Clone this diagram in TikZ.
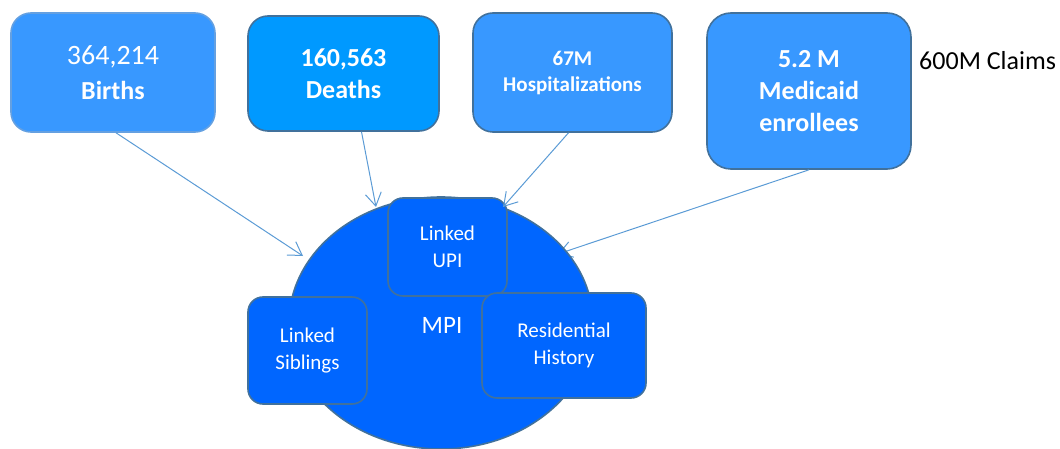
\documentclass[tikz,border=0pt]{standalone}
\usepackage{fontspec}
\setmainfont{Carlito}
\usetikzlibrary{shapes.geometric,arrows.meta,calc}
\definecolor{srcfill}{RGB}{56,152,255}
\definecolor{deathfill}{RGB}{0,153,255}
\definecolor{innerfill}{RGB}{0,102,255}
\definecolor{darkedge}{RGB}{65,113,156}
\definecolor{lightedge}{RGB}{100,160,225}
\definecolor{arrowcol}{RGB}{91,155,213}
\tikzset{
  srcbox/.style={rectangle, rounded corners=20pt, fill=srcfill, draw=darkedge, line width=1.6pt,
    text=white, align=center, inner sep=0pt},
  innerbox/.style={rectangle, rounded corners=15pt, fill=innerfill, draw=darkedge, line width=1.6pt,
    text=white, align=center, inner sep=0pt, font={\fontsize{21}{27}\selectfont}},
  feed/.style={draw=arrowcol, line width=1pt, -{Straight Barb[length=13pt,width=16pt,line width=1pt]}}
}
\begin{document}
\begin{tikzpicture}[x=1pt,y=-1pt]
\useasboundingbox (0,0) rectangle (1060,449);
% source boxes
\node[srcbox, draw=lightedge, minimum width=204pt, minimum height=119pt,
  font={\bfseries\fontsize{26}{35}\selectfont}] (births) at (113,72.5)
  {{\mdseries\fontsize{28}{35}\selectfont 364,214}\\Births};
\node[srcbox, fill=deathfill, minimum width=191pt, minimum height=115pt,
  font={\bfseries\fontsize{26}{32}\selectfont}] (deaths) at (343.5,73.5)
  {160,563\\Deaths};
\node[srcbox, minimum width=199pt, minimum height=119pt,
  font={\bfseries\fontsize{21}{26}\selectfont}] (hosp) at (572.5,72.5)
  {67M\\Hospitalizations};
\node[srcbox, rounded corners=24pt, minimum width=204pt, minimum height=156pt,
  font={\bfseries\fontsize{26}{32}\selectfont}] (medicaid) at (809,91)
  {5.2 M\\Medicaid\\enrollees};
\node[anchor=base west, inner sep=0pt, font={\fontsize{26}{32}\selectfont}] (claims) at (919,70) {600M Claims};
% connector end points
\coordinate (bs) at ($(births.south)+(3pt,0)$);
\coordinate (bt) at (303,256);
\coordinate (ds) at ($(deaths.south)+(18pt,0)$);
\coordinate (dt) at (376,207);
\coordinate (hs) at ($(hosp.south)+(-4pt,0)$);
\coordinate (ht) at (503,207);
\coordinate (ms) at (medicaid.south);
\coordinate (mt) at (558,254);
\draw[feed] (ms) -- (mt);
\draw[feed] (bs) -- (bt);
\draw[feed] (ds) -- (dt);
% MPI
\node[ellipse, fill=innerfill, draw=darkedge, line width=1.6pt, minimum width=304pt, minimum height=252pt,
  inner sep=0pt] (mpi) at (441,323) {};
\node[text=white, inner sep=0pt, font={\fontsize{25}{30}\selectfont}] (mpilabel) at (442,325) {MPI};
\node[innerbox, minimum width=119pt, minimum height=98pt] (upi) at (447.5,247) {Linked\\UPI};
\node[innerbox, minimum width=119pt, minimum height=107pt] (sib) at (307.5,350.5) {Linked\\Siblings};
\node[innerbox, minimum width=164pt, minimum height=105pt] (res) at (564,345.5) {Residential\\History};
\draw[feed] (hs) -- (ht);
\end{tikzpicture}
\end{document}
